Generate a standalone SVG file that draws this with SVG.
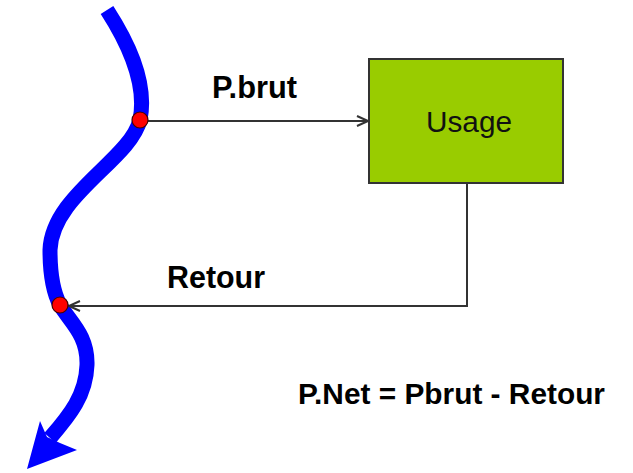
<svg xmlns="http://www.w3.org/2000/svg" width="633" height="473" viewBox="0 0 633 473">
<style>
.lbl{font-family:"Liberation Sans",Arial,sans-serif;font-weight:bold;fill:#000;}
.conn{fill:none;stroke:#333;stroke-width:2;}
.dot{fill:#ff0000;stroke:#400;stroke-width:1.2;}
</style>
<defs>
<marker id="open" markerWidth="14" markerHeight="14" refX="12" refY="7" orient="auto" markerUnits="userSpaceOnUse">
<path d="M1,2 L12,7 L1,12" fill="none" stroke="#333" stroke-width="2"/>
</marker>
</defs>
<rect width="633" height="473" fill="#fff"/>
<g id="river">
<path d="M107,10 C125,38 148,80 140,120 C130,160 52,195 50,250 C50,270 52,290 60,305 C70,322 88,335 87,365 C86,395 70,415 50,438" fill="none" stroke="#0000ff" stroke-width="15"/>
<polygon points="27,469 40,421 47,437 60,443 77,450" fill="#0000ff"/>
</g>
<g id="connectors">
<line class="conn" x1="148" y1="121" x2="368" y2="121" marker-end="url(#open)"/>
<polyline class="conn" points="467,183 467,306 69,306" marker-end="url(#open)"/>
</g>
<g id="usage">
<rect x="369" y="59" width="194" height="124" fill="#99cc00" stroke="#333" stroke-width="2"/>
<text x="469" y="132" text-anchor="middle" font-family="Liberation Sans, Arial, sans-serif" font-size="29" fill="#111" textLength="86" lengthAdjust="spacingAndGlyphs">Usage</text>
</g>
<g id="dots">
<circle class="dot" cx="140" cy="120" r="8"/>
<circle class="dot" cx="60" cy="305" r="8"/>
</g>
<g id="labels">
<text class="lbl" x="212" y="98" font-size="31" textLength="85" lengthAdjust="spacingAndGlyphs">P.brut</text>
<text class="lbl" x="167" y="288" font-size="31" textLength="98" lengthAdjust="spacingAndGlyphs">Retour</text>
<text class="lbl" x="298" y="404" font-size="30" textLength="307" lengthAdjust="spacingAndGlyphs">P.Net = Pbrut - Retour</text>
</g>
</svg>
